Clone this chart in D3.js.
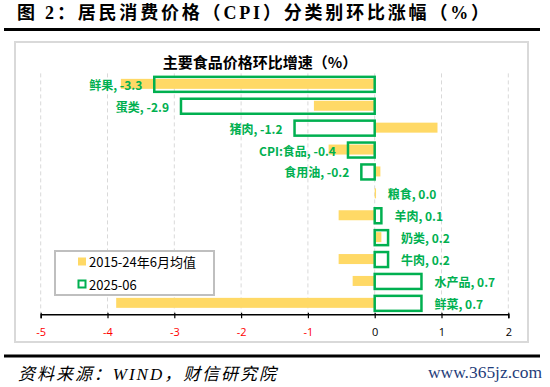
<!DOCTYPE html>
<html>
<head>
<meta charset="utf-8">
<script src="https://cdn.jsdelivr.net/npm/d3@7"></script>
<style>
  body { margin: 0; background: #fff; }
  svg { display: block; }
</style>
</head>
<body>
<svg id="canvas"></svg>
<script>
// categories top to bottom
let categories = ['鲜果', '蛋类', '猪肉', 'CPI:食品', '食用油', '粮食', '羊肉', '奶类', '牛肉', '水产品', '鲜菜'];
// 2025-06 month on month
let current = [-3.3, -2.9, -1.2, -0.4, -0.2, 0.0, 0.1, 0.2, 0.2, 0.7, 0.7];
// 2015-24 June average
let average = [-3.8, -0.91, 0.94, -0.69, 0.085, 0.02, -0.54, 0.1, -0.54, -0.33, -3.87];
let ticks = [-5, -4, -3, -2, -1, 0, 1, 2];
let legendNames = ['2015-24年6月均值', '2025-06'];

let w = 550;
let h = 387;
let yellow = '#FFD966';
let green = '#00B050';
let cjk = '"Noto Sans CJK SC", sans-serif';

// plain hyphen instead of d3's unicode minus
const fmt = (f) => (d => d3.format(f)(d).replace('\u2212', '-'));

let canvas = d3.select('#canvas').attr('width', w).attr('height', h);

// page title + rules
canvas.append('text')
  .attr('x', 17).attr('y', 13)
  .attr('dominant-baseline', 'central')
  .attr('textLength', 472).attr('lengthAdjust', 'spacing')
  .style('font-family', '"Liberation Serif", "Noto Sans CJK SC", serif')
  .style('font-weight', 'bold').style('font-size', '18px')
  .text('图 2：居民消费价格（CPI）分类别环比涨幅（%）');

canvas.append('line').attr('x1', 4).attr('x2', 540).attr('y1', 29.5).attr('y2', 29.5)
  .attr('stroke', '#000').attr('stroke-width', 3);
canvas.append('line').attr('x1', 4).attr('x2', 540).attr('y1', 356).attr('y2', 356)
  .attr('stroke', '#000').attr('stroke-width', 3);

// chart frame
canvas.append('rect')
  .attr('x', 15).attr('y', 42).attr('width', 513).attr('height', 300)
  .attr('fill', '#fff').attr('stroke', '#d9d9d9').attr('stroke-width', 2);

canvas.append('text')
  .attr('x', 260).attr('y', 61)
  .attr('text-anchor', 'middle').attr('dominant-baseline', 'central')
  .style('font-family', cjk).style('font-weight', 'bold').style('font-size', '15px')
  .text('主要食品价格环比增速（%）');

let xScale = d3.scaleLinear().domain([-5, 2]).range([40.7, 508.3]);
let yScale = d3.scaleBand().domain(categories).range([73.4, 314.3]);

// grid
canvas.append('g').selectAll('line')
  .data(ticks)
  .enter().append('line')
  .attr('x1', d => xScale(d)).attr('x2', d => xScale(d))
  .attr('y1', 73.4).attr('y2', 314.3)
  .attr('stroke', '#d9d9d9').attr('stroke-dasharray', '4,3');

let rows = categories.map((c, i) => ({name: c, cur: current[i], avg: average[i]}));

// average bars
canvas.append('g').selectAll('rect')
  .data(rows).enter().append('rect')
  .attr('x', d => xScale(Math.min(0, d.avg)))
  .attr('width', d => Math.abs(xScale(d.avg) - xScale(0)))
  .attr('y', d => yScale(d.name) + yScale.bandwidth() / 2 - 5.5)
  .attr('height', 10)
  .attr('fill', yellow);

// axis
let xAxis = d3.axisBottom(xScale).tickValues(ticks).tickSize(4).tickPadding(10).tickFormat(fmt('d'));
let ax = canvas.append('g')
  .attr('transform', 'translate(0,' + 314.3 + ')')
  .call(xAxis);
ax.select('.domain').attr('stroke', '#000').attr('stroke-width', 1.5);
ax.selectAll('.tick line').attr('stroke', '#000').attr('stroke-width', 1.2).attr('y1', -1.5);
ax.selectAll('.tick text')
  .style('font-family', '"Open Sans", sans-serif').style('font-size', '11px')
  .attr('fill', d => d < 0 ? '#FF0000' : '#000');

// current month outlines
canvas.append('g').selectAll('rect')
  .data(rows).enter().append('rect')
  .attr('x', d => xScale(Math.min(0, d.cur)))
  .attr('width', d => Math.max(0.01, Math.abs(xScale(d.cur) - xScale(0))))
  .attr('y', d => yScale(d.name) + yScale.bandwidth() / 2 - 7.5)
  .attr('height', 15)
  .attr('fill', 'none')
  .attr('stroke', d => d.cur === 0 ? 'none' : green)
  .attr('stroke-width', 2.5);

// labels
let labelFmt = fmt('.1f');
canvas.append('g').selectAll('text')
  .data(rows).enter().append('text')
  .attr('x', d => d.cur < 0 ? xScale(d.cur) - 12 : xScale(d.cur) + 13)
  .attr('y', d => yScale(d.name) + yScale.bandwidth() / 2)
  .attr('text-anchor', d => d.cur < 0 ? 'end' : 'start')
  .attr('dominant-baseline', 'central')
  .style('font-family', cjk).style('font-weight', 'bold').style('font-size', '12px')
  .attr('fill', green)
  .text(d => d.name + ', ' + labelFmt(d.cur));

// legend
let legend = canvas.append('g');
legend.append('rect')
  .attr('x', 55).attr('y', 251).attr('width', 159).attr('height', 44)
  .attr('fill', '#fff').attr('stroke', '#bfbfbf').attr('stroke-width', 2);
legend.append('rect').attr('x', 78).attr('y', 257.5).attr('width', 8).attr('height', 8).attr('fill', yellow);
legend.append('rect').attr('x', 78.5).attr('y', 280.5).attr('width', 7).attr('height', 7)
  .attr('fill', '#fff').attr('stroke', green).attr('stroke-width', 2);
legend.selectAll('text.lg')
  .data(legendNames).enter().append('text')
  .attr('class', 'lg')
  .attr('x', 89).attr('y', (d, i) => 261.7 + i * 22.6)
  .attr('dominant-baseline', 'central')
  .style('font-family', cjk).style('font-size', '13px')
  .text(d => d);

// footer
canvas.append('text')
  .attr('x', 18).attr('y', 374)
  .attr('dominant-baseline', 'central')
  .attr('textLength', 258).attr('lengthAdjust', 'spacing')
  .style('font-family', '"Liberation Serif", "Noto Sans CJK SC", serif')
  .style('font-style', 'italic').style('font-size', '17px')
  .text('资料来源：WIND，财信研究院');

canvas.append('text')
  .attr('x', 428).attr('y', 372)
  .attr('dominant-baseline', 'central')
  .attr('textLength', 114).attr('lengthAdjust', 'spacingAndGlyphs')
  .style('font-family', '"Liberation Serif", serif').style('font-size', '17px')
  .attr('fill', '#1f3d7a')
  .text('www.365jz.com');
</script>
</body>
</html>
